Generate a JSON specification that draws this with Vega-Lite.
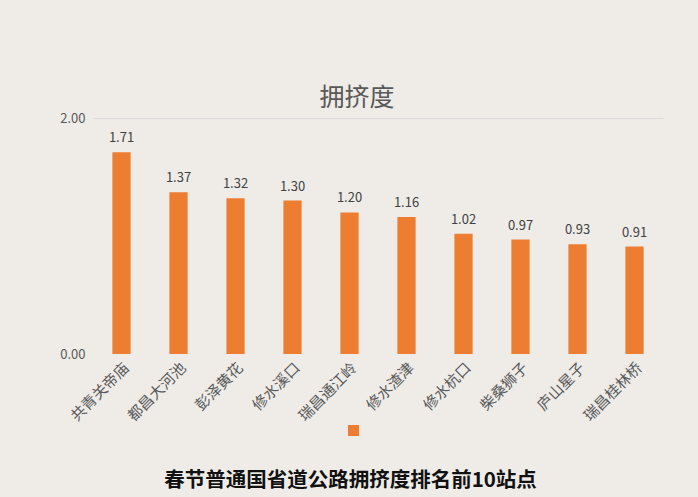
{
  "$schema": "https://vega.github.io/schema/vega-lite/v6.json",
  "width": 570,
  "height": 236,
  "autosize": {"type": "none"},
  "padding": {"left": 93, "top": 118, "right": 35, "bottom": 143},
  "background": "#efece8",
  "title": {"text": "拥挤度", "anchor": "middle", "dx": -21, "offset": 1, "fontSize": 25, "font": "Noto Sans CJK SC", "fontWeight": "normal", "color": "#595959"},
  "config": {"view": {"stroke": null}, "font": "Noto Sans CJK SC"},
  "data": {"values": [
    {"站点": "共青关帝庙", "拥挤度": 1.71, "s": " "},
    {"站点": "都昌大河池", "拥挤度": 1.37, "s": " "},
    {"站点": "彭泽黄花", "拥挤度": 1.32, "s": " "},
    {"站点": "修水溪口", "拥挤度": 1.30, "s": " "},
    {"站点": "瑞昌通江岭", "拥挤度": 1.20, "s": " "},
    {"站点": "修水渣津", "拥挤度": 1.16, "s": " "},
    {"站点": "修水杭口", "拥挤度": 1.02, "s": " "},
    {"站点": "柴桑狮子", "拥挤度": 0.97, "s": " "},
    {"站点": "庐山星子", "拥挤度": 0.93, "s": " "},
    {"站点": "瑞昌桂林桥", "拥挤度": 0.91, "s": " "}
  ]},
  "encoding": {
    "x": {"field": "站点", "type": "nominal", "sort": null,
      "scale": {"paddingInner": 0.68, "paddingOuter": 0.34},
      "axis": {"labelAngle": -45, "labelFontSize": 15, "labelColor": "#595959", "domain": false, "ticks": false, "labelPadding": 6,
        "title": "春节普通国省道公路拥挤度排名前10站点", "titleFontSize": 20.5, "titleFontWeight": "bold", "titleColor": "#111111",
        "titleX": 257, "titleY": 126, "titleBaseline": "middle", "titleAlign": "center"}},
    "y": {"field": "拥挤度", "type": "quantitative", "scale": {"domain": [0, 2]},
      "axis": {"values": [0, 2], "format": ".2f", "title": null, "domain": false, "ticks": false, "labelFontSize": 13, "labelColor": "#595959", "labelPadding": 8, "gridColor": "#d9d9d9",
        "gridOpacity": {"condition": {"test": "datum.value === 0", "value": 0}, "value": 1}}}
  },
  "layer": [
    {"mark": {"type": "bar", "color": "#ed7d31"},
     "encoding": {"color": {"field": "s", "type": "nominal", "scale": {"range": ["#ed7d31"]},
       "legend": {"title": null, "orient": "none", "legendX": 255, "legendY": 307, "symbolType": "square", "symbolSize": 120, "symbolStrokeWidth": 0, "labelFontSize": 1}}}},
    {"mark": {"type": "text", "dy": -14, "fontSize": 13, "color": "#404040"},
     "encoding": {"text": {"field": "拥挤度", "type": "quantitative", "format": ".2f"}}}
  ]
}
